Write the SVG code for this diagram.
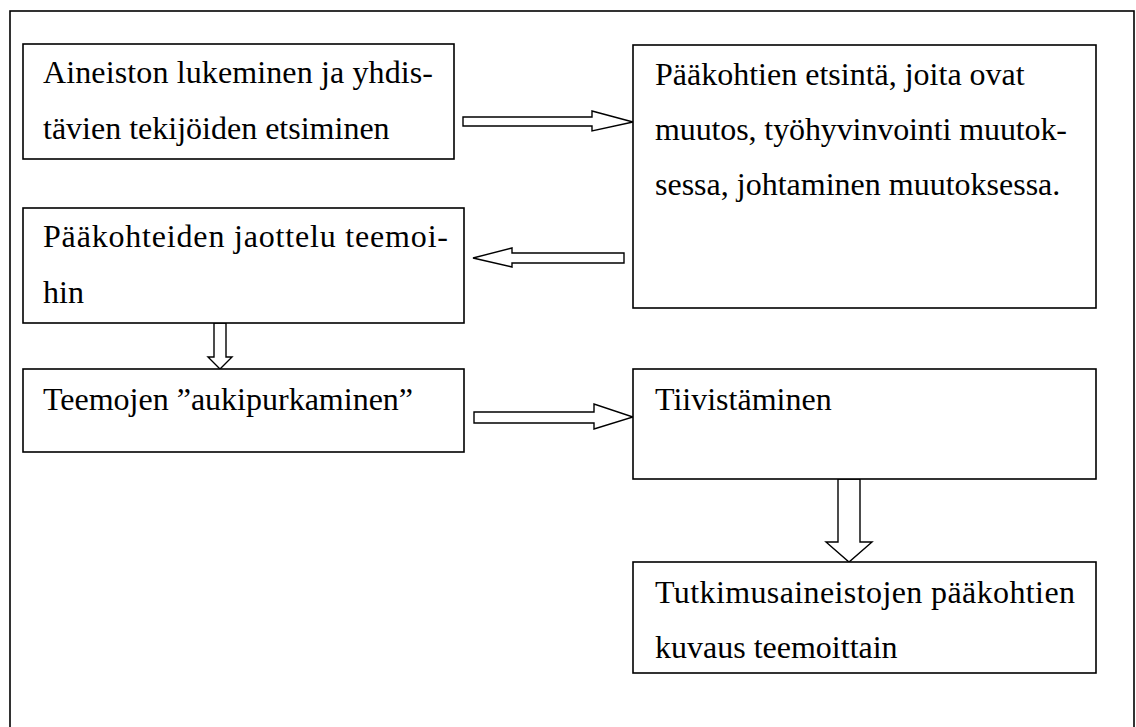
<svg xmlns="http://www.w3.org/2000/svg" width="1136" height="727" viewBox="0 0 1136 727">
<style>
.frame{fill:none;stroke:#000;stroke-width:1.6}
.box{fill:#fff;stroke:#000;stroke-width:1.6}
.arrow{fill:#fff;stroke:#000;stroke-width:1.4;stroke-linejoin:miter}
.t{font-family:"Liberation Serif","Times New Roman",serif;font-size:32px;fill:#000}
</style>
<rect width="1136" height="727" fill="#fff"/>
<rect class="frame" x="10" y="11" width="1124" height="800"/>
<g id="connectors">
<polygon class="arrow" points="463,117 592,117 592,111 633,122 592,131 592,126 463,126"/>
<polygon class="arrow" points="624,253 512,253 512,248 473,258 512,267 512,263 624,263"/>
<polygon class="arrow" points="214,323 226,323 226,357 232,357 220,369 208,357 214,357"/>
<polygon class="arrow" points="474,412 594,412 594,404 633,417 594,429 594,423 474,423"/>
<polygon class="arrow" points="838,479 860,479 860,542 872,542 849,562 826,542 838,542"/>
</g>
<g id="node1">
<rect class="box" x="23" y="44" width="431" height="115"/>
<text class="t" x="43" y="83" textLength="390" lengthAdjust="spacing">Aineiston lukeminen ja yhdis-</text>
<text class="t" x="43" y="139">tävien tekijöiden etsiminen</text>
</g>
<g id="node2">
<rect class="box" x="633" y="45" width="463" height="263"/>
<text class="t" x="655" y="85">Pääkohtien etsintä, joita ovat</text>
<text class="t" x="655" y="140" textLength="412" lengthAdjust="spacing">muutos, työhyvinvointi muutok-</text>
<text class="t" x="655" y="195">sessa, johtaminen muutoksessa.</text>
</g>
<g id="node3">
<rect class="box" x="23" y="208" width="441" height="115"/>
<text class="t" x="43" y="247" textLength="405" lengthAdjust="spacing">Pääkohteiden jaottelu teemoi-</text>
<text class="t" x="43" y="303">hin</text>
</g>
<g id="node4">
<rect class="box" x="23" y="369" width="441" height="83"/>
<text class="t" x="43" y="410">Teemojen ”aukipurkaminen”</text>
</g>
<g id="node5">
<rect class="box" x="633" y="369" width="463" height="110"/>
<text class="t" x="655" y="410">Tiivistäminen</text>
</g>
<g id="node6">
<rect class="box" x="633" y="562" width="463" height="111"/>
<text class="t" x="655" y="603" textLength="420" lengthAdjust="spacing">Tutkimusaineistojen  pääkohtien</text>
<text class="t" x="655" y="658">kuvaus teemoittain</text>
</g>
</svg>
